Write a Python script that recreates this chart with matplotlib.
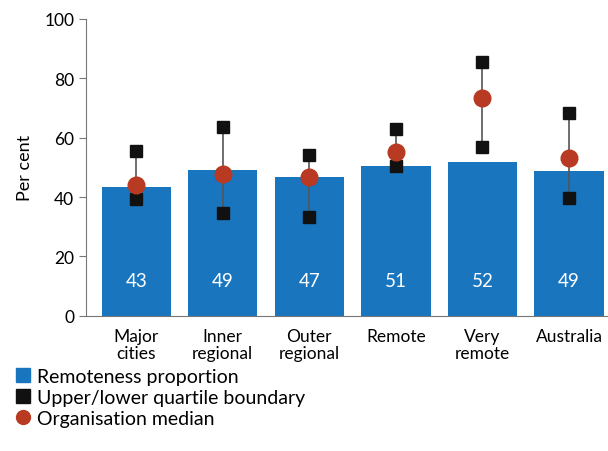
import numpy as np
import matplotlib.pyplot as plt
from matplotlib.lines import Line2D

plt.rcParams['font.family'] = ['Lato', 'DejaVu Sans']

categories = ['Major\ncities', 'Inner\nregional', 'Outer\nregional', 'Remote', 'Very\nremote', 'Australia']
proportion = [43, 49, 47, 51, 52, 49]
bar_heights = [43.3, 49.1, 46.9, 50.6, 51.9, 48.7]
upper_q = [55.6, 63.5, 54.2, 62.9, 85.4, 68.3]
lower_q = [39.3, 34.5, 33.2, 50.6, 56.8, 39.6]
median = [44.2, 47.8, 46.9, 55.3, 73.3, 53.2]

blue = '#1a75bf'
red = '#b83a22'

fig = plt.figure(figsize=(6.08, 4.52), dpi=100)
ax = fig.add_axes([0.1414, 0.2993, 0.8586, 0.6565])

x = np.arange(len(categories))
ax.bar(x, bar_heights, width=0.8, color=blue, zorder=1)

# quartile range lines
ax.vlines(x, lower_q, upper_q, color='#555555', linewidth=1.2, zorder=2)
ax.plot(x, upper_q, 's', color='#111111', markersize=8.5, zorder=3, linestyle='none')
ax.plot(x, lower_q, 's', color='#111111', markersize=8.5, zorder=3, linestyle='none')
ax.plot(x, median, 'o', color=red, markersize=12, zorder=4, linestyle='none')

for xi, v in zip(x, proportion):
    ax.text(xi, 12, str(v), color='white', ha='center', va='center', fontsize=13.5)

ax.set_ylim(0, 100)
ax.set_xlim(-0.58, 5.45)
ax.set_yticks([0, 20, 40, 60, 80, 100])
ax.set_xticks(x)
ax.set_xticklabels(categories, fontsize=12.5, linespacing=1.05)
ax.tick_params(axis='y', labelsize=12.5, length=5, color='#777777')
ax.tick_params(axis='x', length=0, pad=9)
ax.set_ylabel('Per cent', fontsize=13, labelpad=8)

ax.spines['top'].set_visible(False)
ax.spines['right'].set_visible(False)
ax.spines['left'].set_color('#777777')
ax.spines['bottom'].set_color('#777777')

handles = [
    Line2D([], [], marker='s', color=blue, linestyle='none', markersize=10),
    Line2D([], [], marker='s', color='#111111', linestyle='none', markersize=10),
    Line2D([], [], marker='o', color=red, linestyle='none', markersize=10),
]
labels = ['Remoteness proportion', 'Upper/lower quartile boundary', 'Organisation median']
fig.legend(handles, labels, loc='upper left', bbox_to_anchor=(0.006, 0.205), frameon=False,
           fontsize=14, handletextpad=0.2, labelspacing=0.2, borderpad=0, handlelength=1.0)

plt.savefig('out.png', dpi=100)
